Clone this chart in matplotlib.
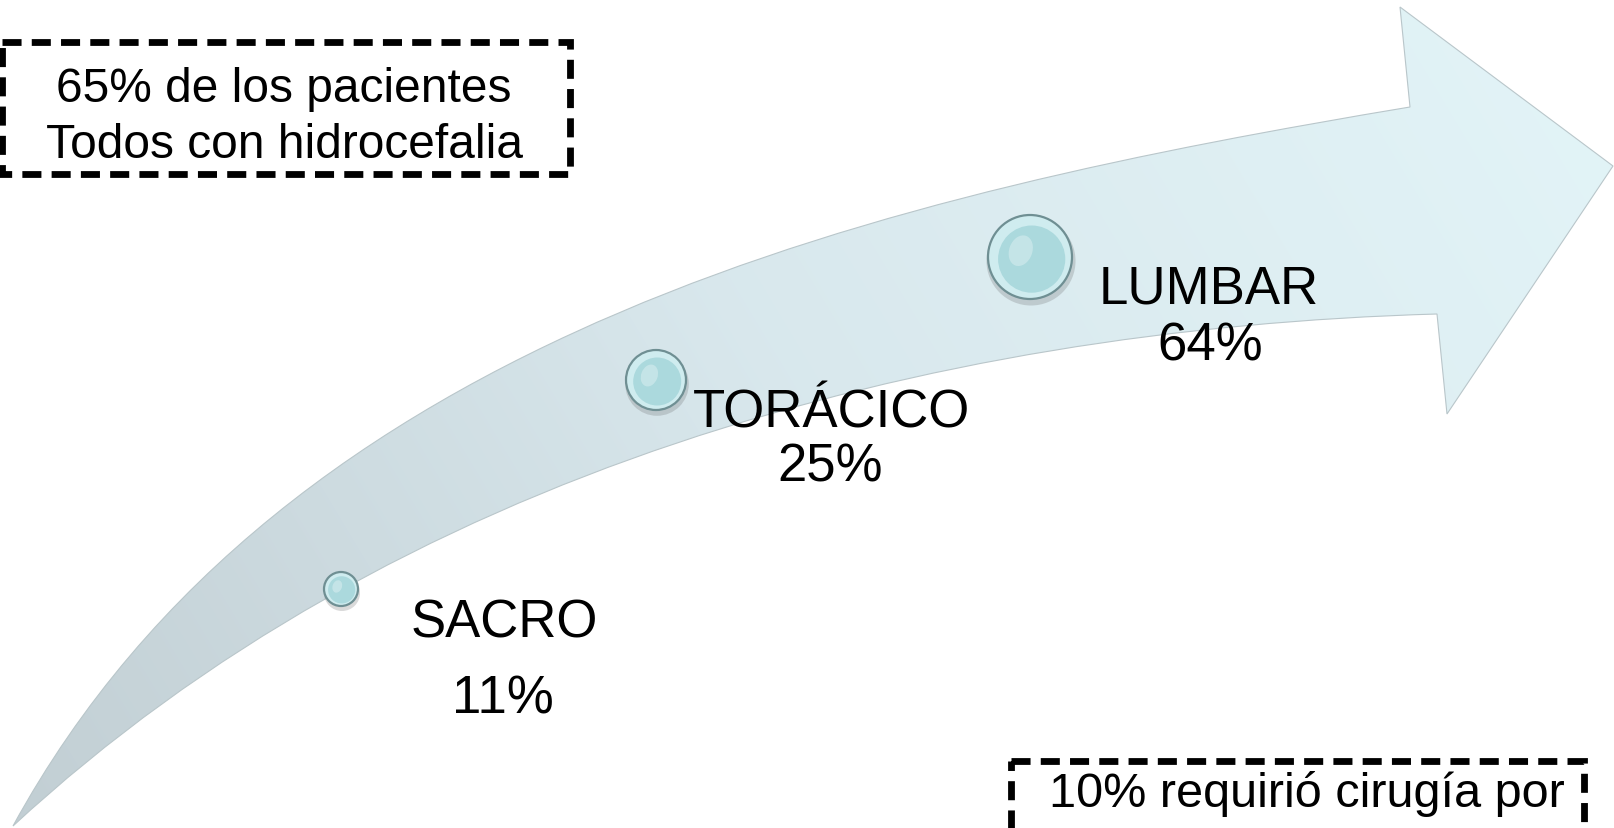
import numpy as np
import matplotlib
matplotlib.use("Agg")
import matplotlib.pyplot as plt
from matplotlib.path import Path
from matplotlib.patches import PathPatch, Circle, Ellipse, Rectangle

# ---- data ----
categories = ["SACRO", "TORÁCICO", "LUMBAR"]
percentages = [11, 25, 64]
note_top = ["65% de los pacientes", "Todos con hidrocefalia"]
note_bottom = ["10% requirió cirugía por"]

plt.rcParams['font.family'] = ['Liberation Sans', 'DejaVu Sans']

W, H = 1614, 829
fig = plt.figure(figsize=(W / 100, H / 100), dpi=100)
ax = fig.add_axes([0, 0, 1, 1])
ax.set_xlim(0, W)
ax.set_ylim(H, 0)
ax.axis('off')

# ---- curved arrow shape (decoration) ----
upper_pts = [(13, 827), (50, 773), (100, 693), (177, 600), (250, 527), (350, 457),
             (450, 402), (550, 352), (650, 305), (750, 260), (850, 226), (950, 202),
             (1100, 168), (1250, 137), (1410, 108)]
lower_pts = [(13, 827), (50, 805), (100, 762), (200, 670), (300, 613), (340, 595),
             (500, 515), (650, 449), (750, 420), (850, 392), (950, 370), (1050, 353),
             (1150, 340), (1333, 323), (1437, 315)]
head_pts = [(1400, 8), (1613, 167), (1447, 415)]


def fit_cubic(pts):
    pts = np.asarray(pts, float)
    d = np.r_[0, np.cumsum(np.hypot(*np.diff(pts, axis=0).T))]
    t = d / d[-1]
    P0, P3 = pts[0], pts[-1]
    b0 = (1 - t) ** 3
    b1 = 3 * t * (1 - t) ** 2
    b2 = 3 * t ** 2 * (1 - t)
    b3 = t ** 3
    A = np.c_[b1, b2]
    R = pts - np.outer(b0, P0) - np.outer(b3, P3)
    sol, *_ = np.linalg.lstsq(A, R, rcond=None)
    return P0, sol[0], sol[1], P3


u0, u1, u2, u3 = fit_cubic(upper_pts)
l0, l1, l2, l3 = fit_cubic(lower_pts)
verts = [u0, u1, u2, u3] + [np.array(p, float) for p in head_pts] + [l3, l2, l1, l0, u0]
codes = ([Path.MOVETO, Path.CURVE4, Path.CURVE4, Path.CURVE4] +
         [Path.LINETO] * 4 + [Path.CURVE4, Path.CURVE4, Path.CURVE4, Path.CLOSEPOLY])
arrow_path = Path(verts, codes)
arrow = PathPatch(arrow_path, facecolor='none', edgecolor='#b9c6ca', lw=0.8, zorder=2)
ax.add_patch(arrow)

# gradient fill
gy, gx = np.mgrid[0:H:2, 0:W:2]
s = ((gx - 13) + (827 - gy) * 0.6)
s = np.clip(s / s.max(), 0, 1)
c0 = np.array([0.76, 0.81, 0.83])
c1 = np.array([0.85, 0.91, 0.93])
c2 = np.array([0.89, 0.96, 0.972])
img = np.where((s < 0.5)[..., None],
               c0 + (c1 - c0) * (s / 0.5)[..., None],
               c1 + (c2 - c1) * ((s - 0.5) / 0.5)[..., None])
im = ax.imshow(img, extent=(0, W, H, 0), origin='upper', zorder=1, interpolation='bilinear')
im.set_clip_path(arrow)

# ---- bullets ----
bullet_pos = [(341, 590), (656, 381), (1030, 258)]
bullet_r = [17, 30, 42]
for (cx, cy), r in zip(bullet_pos, bullet_r):
    ax.add_patch(Circle((cx + 1, cy + 4), r * 1.06, color=(0.35, 0.35, 0.35), alpha=0.22, lw=0, zorder=3))
    ax.add_patch(Circle((cx, cy), r, fc='#cfecef', ec='#6f8f93', lw=1.6, zorder=4))
    ax.add_patch(Circle((cx + 0.04 * r, cy + 0.05 * r), 0.8 * r, fc='#abd9dd', ec='none', zorder=5))
    ax.add_patch(Ellipse((cx - 0.22 * r, cy - 0.15 * r), 0.55 * r, 0.75 * r, angle=20,
                         fc='white', alpha=0.3, ec='none', zorder=6))

# ---- labels ----
name_pos = [(504, 637), (832, 427), (1209, 303)]
pct_pos = [(503, 713), (830, 482), (1210, 360)]
for name, pct, (nx, ny), (px, py) in zip(categories, percentages, name_pos, pct_pos):
    ax.text(nx, ny, name, fontsize=38, ha='center', va='baseline', color='black', zorder=7)
    ax.text(px, py, f"{pct}%", fontsize=38, ha='center', va='baseline', color='black', zorder=7)

# ---- dashed note boxes ----
lw_box = 4.9
dash = (0, (2.8, 1.5))
ax.add_patch(Rectangle((2, 43), 568, 132, fill=False, ec='black', lw=lw_box, ls=dash, zorder=8))
ax.text(284, 102, note_top[0], fontsize=34.5, ha='center', va='baseline', zorder=8)
ax.text(284, 158, note_top[1], fontsize=34.5, ha='center', va='baseline', zorder=8)

ax.add_patch(Rectangle((1011, 762), 573, 140, fill=False, ec='black', lw=lw_box, ls=dash, zorder=8))
ax.text(1307, 807, note_bottom[0], fontsize=35, ha='center', va='baseline', zorder=8)

fig.savefig("out.png", dpi=100)
